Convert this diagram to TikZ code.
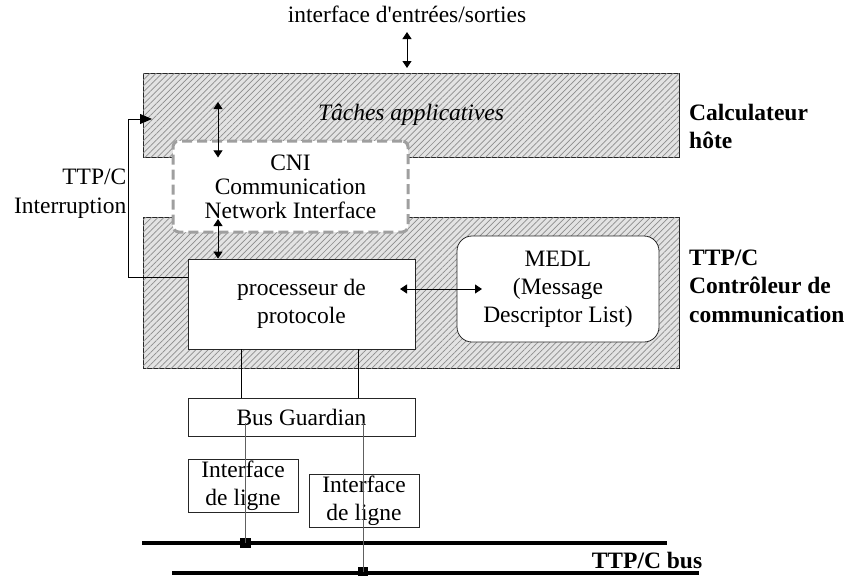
\documentclass[tikz,border=0pt]{standalone}
\usepackage{fontspec}
\setmainfont{Liberation Serif}
\usetikzlibrary{arrows.meta,patterns.meta}
\begin{document}
\begin{tikzpicture}[x=1pt,y=-1pt,
  font=\fontsize{23.5}{28}\selectfont,
  hatched/.style={draw=black!85,line width=0.8pt,fill=gray!22,
    postaction={pattern={Lines[angle=45,distance=4.3pt,line width=0.7pt]},pattern color=gray!90}},
  wbox/.style={draw=black!85,line width=0.8pt,fill=white,align=center,inner sep=0pt},
  lbl/.style={inner sep=0pt,align=left,font=\fontsize{23.5}{28.5}\selectfont\bfseries},
  thinl/.style={line width=0.8pt,draw=black},
  dbl/.style={thinl,{Triangle[length=7pt,width=9pt]}-{Triangle[length=7pt,width=9pt]}},
  guardl/.style={line width=1pt,draw=gray!75!black},
  busl/.style={line width=4pt,draw=black},
  tap/.style={fill=black,inner sep=0pt,minimum width=10.5pt,minimum height=10pt}]
\useasboundingbox (0,0) rectangle (844,576);

% main blocks
\node[hatched,minimum width=536,minimum height=84] (host) at (411,115) {\itshape Tâches applicatives};
\node[hatched,minimum width=536,minimum height=151] (ctrl) at (411,292.5) {};
\node[fill=white,draw=gray!75,line width=3pt,dash pattern=on 10pt off 5pt,rounded corners=6pt,
      minimum width=235,minimum height=91,align=center,inner sep=0pt,
      font=\fontsize{23.5}{24}\selectfont] (cni) at (290.5,186.5) {CNI\\Communication\\Network Interface};
\node[wbox,minimum width=227,minimum height=90] (proc) at (301.5,304) {processeur de\\protocole};
\node[wbox,rounded corners=15pt,minimum width=202,minimum height=106] (medl) at (558,289) {MEDL\\(Message\\Descriptor List)};
\node[wbox,minimum width=227,minimum height=38] (guard) at (301.5,417) {Bus Guardian};
\node[wbox,minimum width=110,minimum height=53] (if1) at (243,485.5) {Interface\\de ligne};
\node[wbox,minimum width=110,minimum height=53] (if2) at (364,500.5) {Interface\\de ligne};

% texts
\node[inner sep=0pt] (io) at (407,14) {interface d\textquotesingle entrées/sorties};
\node[lbl,anchor=west] (hostl) at (689,126.5) {Calculateur\\hôte};
\node[lbl,anchor=west] (ctrll) at (689,286) {TTP/C\\Contrôleur de\\communication};
\node[inner sep=0pt,align=right,anchor=east,font=\fontsize{23.5}{29}\selectfont] (irql) at (126.5,194) {TTP/C\\Interruption};
\node[inner sep=0pt,font=\fontsize{23.5}{28}\selectfont\bfseries] (busl) at (647,560) {TTP/C bus};

% arrows
\coordinate (ioA) at (407,32);
\coordinate (ioB) at (407,68);
\draw[dbl] (ioA) -- (ioB);
\coordinate (hA) at (218,102);
\draw[dbl] (hA) -- (hA |- host.south);
\coordinate (cA) at (218,219);
\draw[dbl] (cA) -- (cA |- proc.north);
\coordinate (pA) at (400,289);
\coordinate (mA) at (482,289);
\draw[dbl] (pA) -- (mA);
\coordinate (irq) at (152,119);
\draw[thinl,-{Triangle[length=12pt,width=10pt]}] ([yshift=27pt]proc.west) -| (128,119) -- (irq);

% processor to guardian
\draw[thinl] (proc.south -| 241,0) -- (guard.north -| 241,0);
\draw[thinl] (proc.south -| 358,0) -- (guard.north -| 358,0);

% buses
\coordinate (b1a) at (142,543);
\coordinate (b1b) at (667,543);
\coordinate (b2a) at (172,573);
\coordinate (b2b) at (699,573);
\draw[busl] (b1a) -- (b1b);
\draw[busl] (b2a) -- (b2b);
\node[tap] (t1) at (245.5,543) {};
\node[tap] (t2) at (363,572) {};
\coordinate (g1) at (245.5,423);
\coordinate (g2) at (363,423);
\draw[guardl] (g1) -- (t1.center);
\draw[guardl] (g2) -- (t2.center);
\end{tikzpicture}
\end{document}
